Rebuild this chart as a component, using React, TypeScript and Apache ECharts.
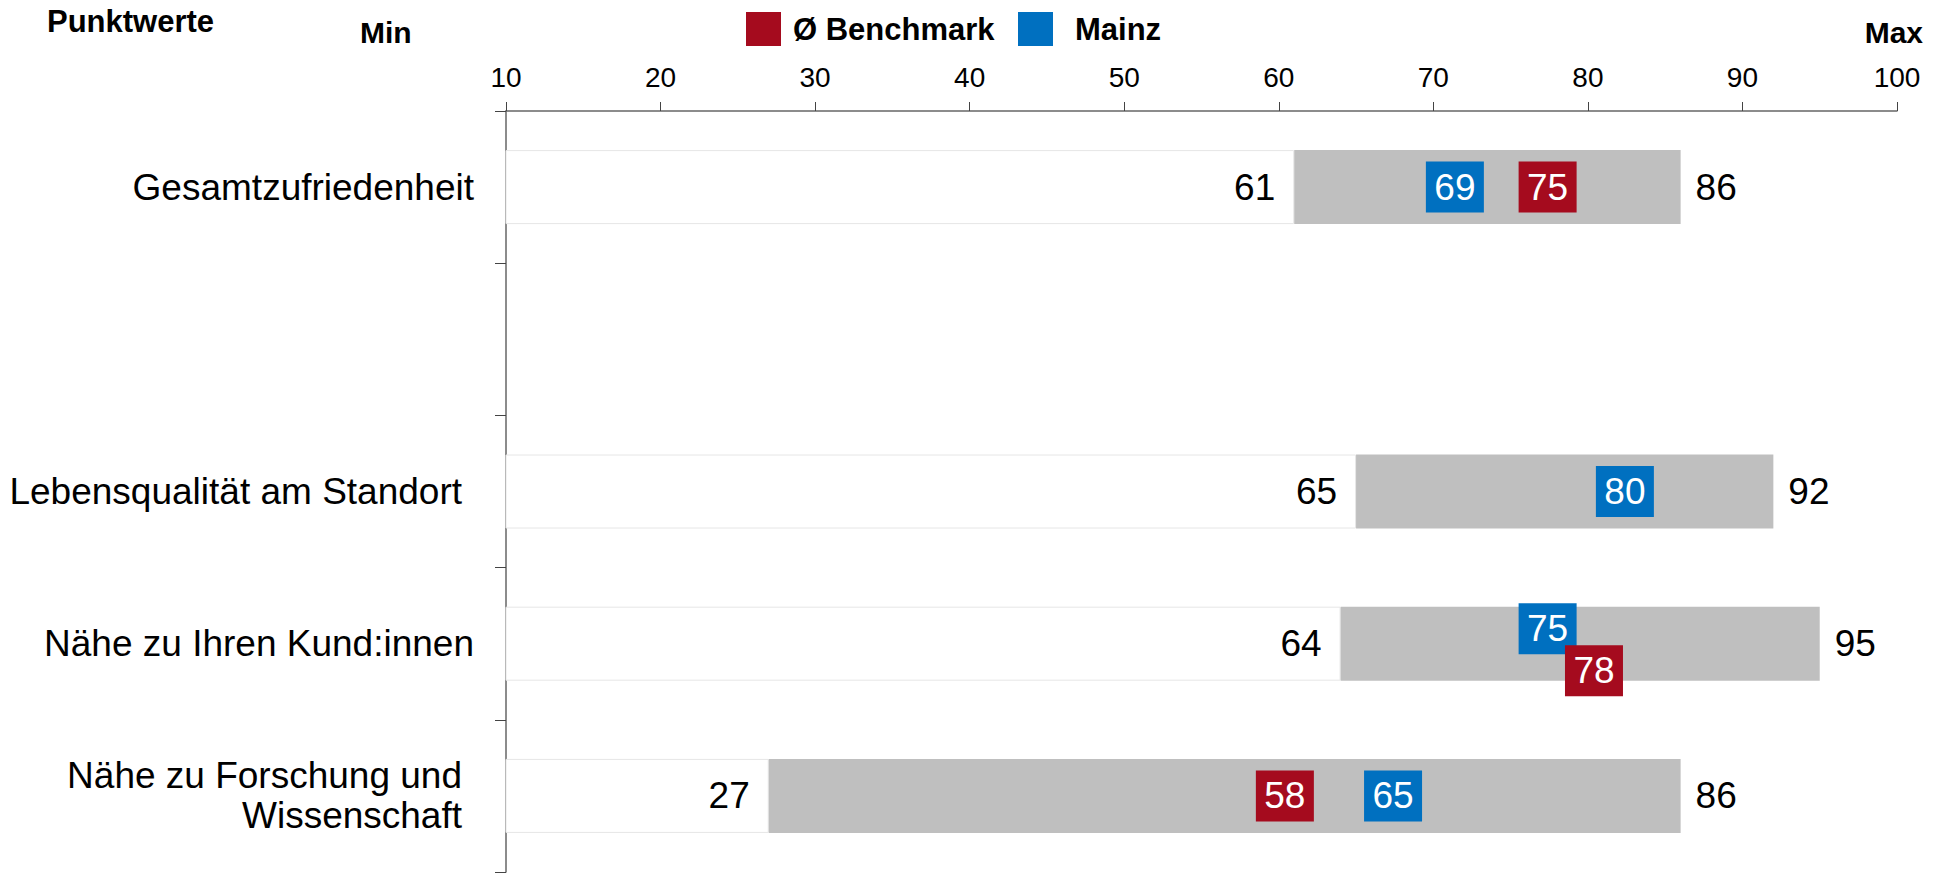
import React, { useEffect, useRef } from "react";
import * as echarts from "echarts";

const categories = [
  "Gesamtzufriedenheit",
  "",
  "Lebensqualität am Standort",
  "Nähe zu Ihren Kund:innen",
  "Nähe zu Forschung und\nWissenschaft",
];
const minValues: (number | null)[] = [61, null, 65, 64, 27];
const maxValues: (number | null)[] = [86, null, 92, 95, 86];
const benchmarkValues: (number | null)[] = [75, null, null, 78, 58];
const mainzValues: (number | null)[] = [69, null, 80, 75, 65];
const axisMin = 10;
const axisMax = 100;
const axisInterval = 10;

// styling only
const benchmarkShiftY = [0, 0, 0, 27, 0];
const mainzShiftY = [0, 0, 0, -15, 0];
const labelPadRight = [0, 0, 12, 0, 12];

const FONT = "'Liberation Sans', Arial, Helvetica, sans-serif";
const RED = "#A50B1E";
const BLUE = "#0070C0";
const GREY = "#BFBFBF";

function markerData(values: (number | null)[], shifts: number[]) {
  const out: any[] = [];
  values.forEach((v, i) => {
    if (v == null) return;
    out.push({ value: [v, i], symbolOffset: [37, shifts[i]] });
  });
  return out;
}

export default function App() {
  const ref = useRef<HTMLDivElement>(null);
  useEffect(() => {
    const chart = echarts.init(ref.current!, null, { renderer: "svg" });
    const markerLabel = {
      show: true,
      position: "inside",
      color: "#fff",
      fontSize: 37,
      fontFamily: FONT,
      formatter: (p: any) => String(p.value[0]),
    };
    chart.setOption({
      animation: false,
      backgroundColor: "#fff",
      textStyle: { fontFamily: FONT },
      grid: { left: 506, right: 49, top: 111, bottom: 3, containLabel: false },
      legend: [
        {
          data: ["Ø Benchmark"],
          left: 746,
          top: 12,
          padding: 0,
          icon: "rect",
          itemWidth: 35,
          itemHeight: 34,
          textStyle: { fontSize: 31, fontWeight: "bold", color: "#000", fontFamily: FONT, padding: [0, 0, 0, 7] },
        },
        {
          data: ["Mainz"],
          left: 1018,
          top: 12,
          padding: 0,
          icon: "rect",
          itemWidth: 35,
          itemHeight: 34,
          textStyle: { fontSize: 31, fontWeight: "bold", color: "#000", fontFamily: FONT, padding: [0, 0, 0, 17] },
        },
      ],
      graphic: [
        {
          type: "text",
          left: 47,
          top: 6,
          style: { text: "Punktwerte", font: `bold 31px ${FONT}`, fill: "#000" },
        },
        {
          type: "text",
          left: 360,
          top: 17,
          style: { text: "Min", font: `bold 30px ${FONT}`, fill: "#000" },
        },
        {
          type: "text",
          right: 23,
          top: 17,
          style: { text: "Max", font: `bold 30px ${FONT}`, fill: "#000" },
        },
      ],
      xAxis: {
        type: "value",
        position: "top",
        min: axisMin,
        max: axisMax,
        interval: axisInterval,
        splitLine: { show: false },
        axisLine: { show: true, lineStyle: { color: "#666", width: 1.5 } },
        axisTick: { show: true, length: 9, lineStyle: { color: "#444", width: 1 } },
        axisLabel: { fontSize: 28, color: "#000", margin: 20, fontFamily: FONT },
      },
      yAxis: {
        type: "category",
        inverse: true,
        data: categories.map((c, i) => ({
          value: c,
          textStyle: { padding: [0, labelPadRight[i], 0, 0] },
        })),
        axisLine: { show: true, lineStyle: { color: "#666", width: 1.5 } },
        axisTick: { show: true, length: 11, lineStyle: { color: "#444", width: 1 } },
        axisLabel: {
          fontSize: 37,
          color: "#000",
          margin: 32,
          lineHeight: 40,
          align: "right",
          fontFamily: FONT,
        },
      },
      series: [
        {
          name: "base",
          type: "bar",
          stack: "range",
          barWidth: 74,
          data: minValues.map((v) => (v == null ? "-" : v)),
          itemStyle: { color: "#fff", borderColor: "#e6e6e6", borderWidth: 1 },
          label: {
            show: true,
            position: "insideRight",
            distance: 19,
            fontSize: 37,
            color: "#000",
            fontFamily: FONT,
            formatter: (p: any) => String(minValues[p.dataIndex]),
          },
          silent: true,
        },
        {
          name: "range",
          type: "bar",
          stack: "range",
          barWidth: 74,
          data: minValues.map((v, i) => (v == null || maxValues[i] == null ? "-" : (maxValues[i] as number) - v)),
          itemStyle: { color: GREY },
          label: {
            show: true,
            position: "right",
            distance: 15,
            fontSize: 37,
            color: "#000",
            fontFamily: FONT,
            formatter: (p: any) => String(maxValues[p.dataIndex]),
          },
          silent: true,
        },
        {
          name: "Ø Benchmark",
          type: "scatter",
          symbol: "rect",
          symbolSize: [58, 51],
          itemStyle: { color: RED, opacity: 1 },
          label: markerLabel,
          data: markerData(benchmarkValues, benchmarkShiftY),
          z: 5,
        },
        {
          name: "Mainz",
          type: "scatter",
          symbol: "rect",
          symbolSize: [58, 51],
          itemStyle: { color: BLUE, opacity: 1 },
          label: markerLabel,
          data: markerData(mainzValues, mainzShiftY),
          z: 4,
        },
      ],
    });
    return () => chart.dispose();
  }, []);
  return (
    <div
      ref={ref}
      style={{ position: "absolute", left: 0, top: 0, width: 1946, height: 875 }}
    />
  );
}
